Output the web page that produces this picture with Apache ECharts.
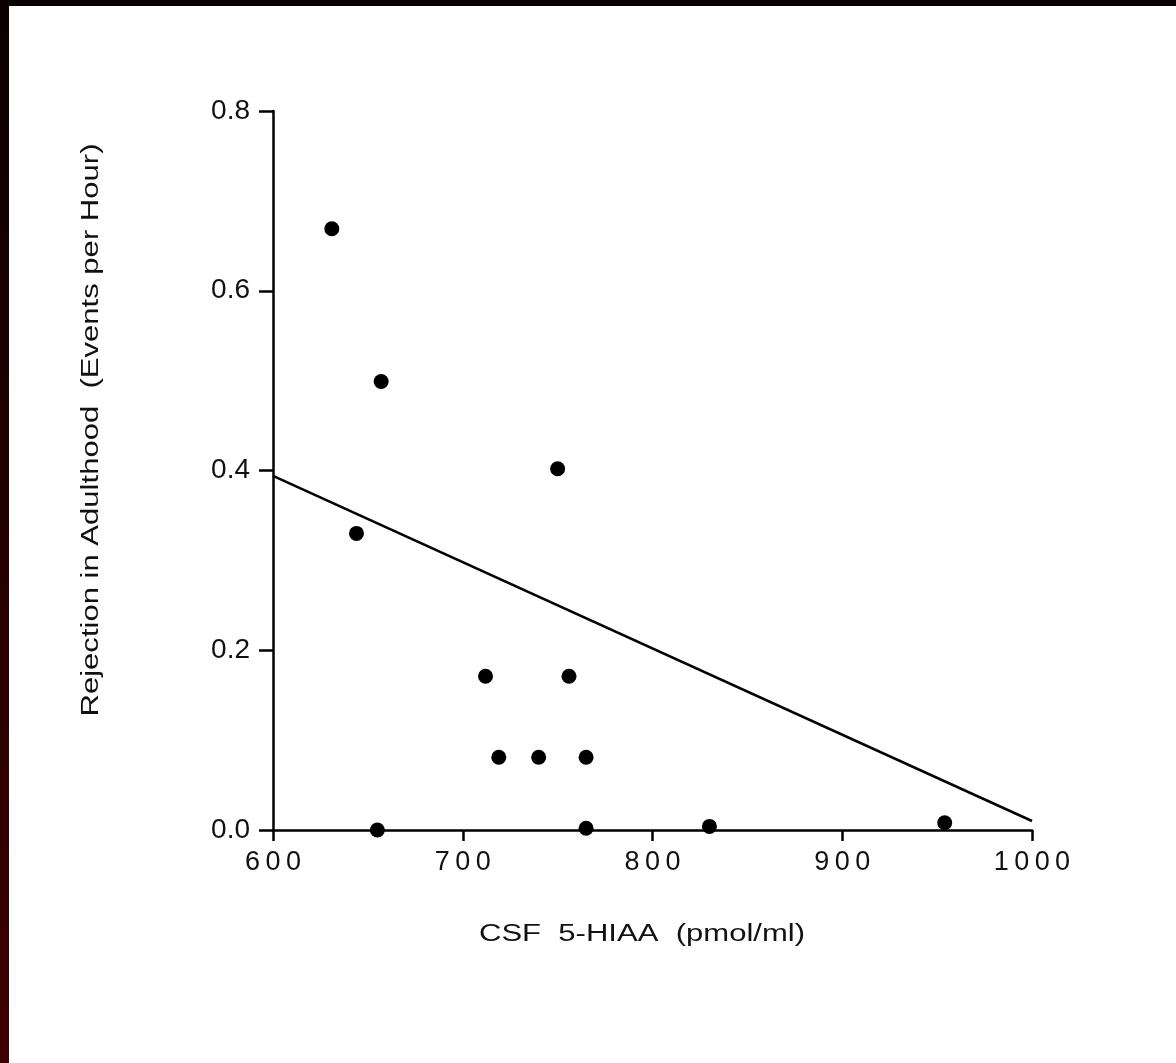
<!DOCTYPE html>
<html><head><meta charset="utf-8">
<script src="https://cdn.jsdelivr.net/npm/echarts@6/dist/echarts.min.js"></script>
<style>
html,body{margin:0;padding:0;width:1176px;height:1063px;overflow:hidden;background:linear-gradient(to bottom,#0a0000,#3e0000);}
#c{position:absolute;left:9px;top:6px;width:1167px;height:1057px;background:#fff;}
</style></head><body>
<div id="c"></div>
<script>
var xTicks = [600, 700, 800, 900, 1000];
var yTicks = [0.0, 0.2, 0.4, 0.6, 0.8];
var csfHIAA = [631, 657, 750, 644, 712, 756, 719, 740, 765, 655, 765, 830, 954];
var rejection = [0.669, 0.499, 0.402, 0.330, 0.171, 0.171, 0.081, 0.081, 0.081, 0.0, 0.002, 0.004, 0.008];
var fitX = [600, 1000];
var fitY = [0.394, 0.010];
var xTitle = 'CSF  5-HIAA  (pmol/ml)';
var yTitle = 'Rejection in Adulthood  (Events per Hour)';

var chart = echarts.init(document.getElementById('c'), null, {renderer:'canvas'});
var font = 'Liberation Sans, Arial, sans-serif';
function spaced(s){ return String(s).split('').join('\u2009'); }
chart.setOption({
  animation:false,
  backgroundColor:'#fff',
  grid:{left:264, top:105, width:759, height:719},
  xAxis:{type:'value', min:600, max:1000, interval:100,
    axisLine:{lineStyle:{color:'#000', width:2.5}},
    axisTick:{show:true, inside:false, length:11, lineStyle:{color:'#000', width:2.5}},
    axisLabel:{color:'#111', fontSize:27, fontFamily:font, margin:19,
      formatter:function(v){return xTicks.indexOf(v)>=0 ? spaced(v) : '';}},
    splitLine:{show:false}},
  yAxis:{type:'value', min:0, max:0.8, interval:0.2,
    axisLine:{show:true, lineStyle:{color:'#000', width:2.5}},
    axisTick:{show:true, inside:false, length:14, lineStyle:{color:'#000', width:2.5}},
    axisLabel:{color:'#111', fontSize:28, fontFamily:font, margin:23,
      formatter:function(v){return v.toFixed(1);}},
    splitLine:{show:false}},
  graphic:[
    {type:'text', x:633, y:929, scaleX:1.35, style:{text:xTitle, font:'23px '+font, fill:'#111', align:'center', verticalAlign:'middle'}},
    {type:'text', x:83, y:424, rotation:Math.PI/2, scaleX:1.35, style:{text:yTitle, font:'23px '+font, fill:'#111', align:'center', verticalAlign:'middle'}}
  ],
  series:[
    {type:'line', data:fitX.map(function(x,i){return [x, fitY[i]];}), showSymbol:false, symbol:'none',
      lineStyle:{color:'#000', width:2.5}, z:3},
    {type:'scatter', data:csfHIAA.map(function(x,i){return [x, rejection[i]];}), symbol:'circle', symbolSize:15,
      itemStyle:{color:'#000', opacity:1}, z:4}
  ]
});
</script>
</body></html>
